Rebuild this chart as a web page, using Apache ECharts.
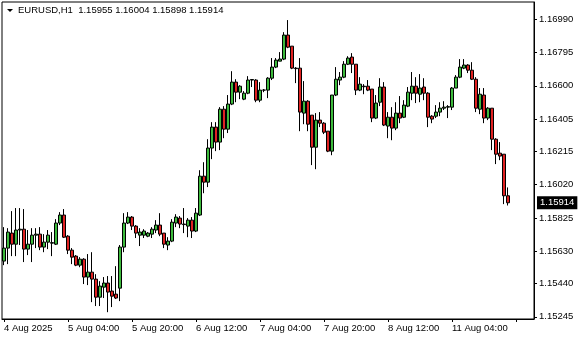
<!DOCTYPE html>
<html>
<head>
<meta charset="utf-8">
<script src="https://cdn.jsdelivr.net/npm/echarts@6/dist/echarts.min.js"></script>
<style>
html,body{margin:0;padding:0;background:#fff;}
#chart{width:580px;height:340px;}
</style>
</head>
<body>
<div id="chart"></div>
<script>
// EURUSD H1, first bar 4 Aug 2025 12:00
const openP = [
1.15572,1.15648,1.15736,1.15671,1.15754,1.15759,1.15642,1.15671,1.15724,1.15730,
1.15654,1.15683,1.15677,1.15671,1.15795,1.15842,1.15718,1.15636,1.15601,1.15548,
1.15583,1.15478,1.15507,1.15466,1.15360,1.15419,1.15443,1.15396,1.15378,1.15413,
1.15654,1.15795,1.15830,1.15777,1.15724,1.15724,1.15718,1.15730,1.15754,1.15783,
1.15736,1.15666,1.15689,1.15795,1.15824,1.15789,1.15777,1.15812,1.15748,1.15842,
1.16070,1.16035,1.16235,1.16358,1.16270,1.16463,1.16346,1.16493,1.16622,1.16563,
1.16522,1.16557,1.16634,1.16634,1.16516,1.16575,1.16575,1.16645,1.16710,1.16745,
1.16757,1.16898,1.16833,1.16704,1.16704,1.16440,1.16510,1.16428,1.16240,1.16399,
1.16381,1.16334,1.16217,1.16546,1.16634,1.16651,1.16727,1.16769,1.16727,1.16575,
1.16598,1.16598,1.16581,1.16411,1.16504,1.16593,1.16364,1.16416,1.16352,1.16440,
1.16416,1.16481,1.16557,1.16598,1.16551,1.16593,1.16557,1.16422,1.16422,1.16446,
1.16469,1.16475,1.16475,1.16587,1.16651,1.16704,1.16722,1.16692,1.16639,1.16463,
1.16546,1.16411,1.16469,1.16287,1.16205,1.16199,1.15955
];
const closeP = [
1.15648,1.15742,1.15671,1.15754,1.15759,1.15642,1.15671,1.15724,1.15730,1.15654,
1.15683,1.15724,1.15680,1.15795,1.15842,1.15712,1.15636,1.15595,1.15548,1.15583,
1.15478,1.15507,1.15466,1.15360,1.15425,1.15443,1.15390,1.15366,1.15355,1.15654,
1.15795,1.15830,1.15777,1.15736,1.15742,1.15748,1.15736,1.15759,1.15783,1.15730,
1.15671,1.15689,1.15800,1.15830,1.15789,1.15786,1.15812,1.15748,1.15853,1.16070,
1.16035,1.16235,1.16358,1.16270,1.16463,1.16346,1.16493,1.16622,1.16563,1.16598,
1.16557,1.16634,1.16637,1.16516,1.16575,1.16575,1.16645,1.16710,1.16751,1.16757,
1.16898,1.16827,1.16704,1.16701,1.16446,1.16510,1.16375,1.16240,1.16399,1.16381,
1.16328,1.16217,1.16546,1.16639,1.16651,1.16727,1.16763,1.16727,1.16575,1.16610,
1.16595,1.16575,1.16411,1.16499,1.16593,1.16370,1.16416,1.16352,1.16440,1.16411,
1.16487,1.16563,1.16598,1.16557,1.16587,1.16557,1.16416,1.16405,1.16446,1.16469,
1.16475,1.16478,1.16587,1.16651,1.16710,1.16722,1.16692,1.16639,1.16469,1.16551,
1.16411,1.16469,1.16287,1.16199,1.16188,1.15955,1.15914
];
const highP = [
1.15771,1.15765,1.15865,1.15883,1.15883,1.15877,1.15754,1.15765,1.15765,1.15771,
1.15730,1.15754,1.15742,1.15818,1.15859,1.15877,1.15724,1.15648,1.15607,1.15595,
1.15589,1.15613,1.15624,1.15495,1.15454,1.15478,1.15484,1.15484,1.15542,1.15666,
1.15853,1.15859,1.15836,1.15783,1.15765,1.15759,1.15742,1.15771,1.15812,1.15853,
1.15736,1.15712,1.15818,1.15847,1.15836,1.15883,1.15824,1.15830,1.15883,1.16105,
1.16152,1.16287,1.16387,1.16387,1.16475,1.16481,1.16546,1.16686,1.16639,1.16604,
1.16569,1.16657,1.16639,1.16639,1.16622,1.16581,1.16651,1.16763,1.16763,1.16798,
1.16915,1.16986,1.16833,1.16710,1.16763,1.16628,1.16516,1.16428,1.16440,1.16446,
1.16387,1.16334,1.16546,1.16710,1.16681,1.16745,1.16774,1.16792,1.16727,1.16651,
1.16610,1.16634,1.16581,1.16546,1.16645,1.16622,1.16446,1.16475,1.16504,1.16540,
1.16516,1.16593,1.16681,1.16651,1.16669,1.16645,1.16563,1.16428,1.16487,1.16504,
1.16510,1.16487,1.16593,1.16663,1.16757,1.16757,1.16727,1.16739,1.16651,1.16587,
1.16587,1.16475,1.16469,1.16293,1.16270,1.16199,1.16004
];
const lowP = [
1.15548,1.15554,1.15601,1.15601,1.15666,1.15566,1.15607,1.15566,1.15648,1.15636,
1.15624,1.15642,1.15601,1.15666,1.15783,1.15707,1.15613,1.15554,1.15542,1.15536,
1.15437,1.15431,1.15331,1.15308,1.15308,1.15355,1.15272,1.15302,1.15349,1.15337,
1.15624,1.15789,1.15754,1.15707,1.15660,1.15707,1.15712,1.15707,1.15736,1.15718,
1.15648,1.15636,1.15683,1.15771,1.15765,1.15736,1.15712,1.15707,1.15742,1.15836,
1.15970,1.16006,1.16170,1.16217,1.16223,1.16293,1.16323,1.16487,1.16504,1.16522,
1.16516,1.16551,1.16593,1.16504,1.16504,1.16563,1.16528,1.16634,1.16704,1.16745,
1.16751,1.16821,1.16698,1.16616,1.16334,1.16375,1.16334,1.16135,1.16111,1.16358,
1.16317,1.16211,1.16193,1.16540,1.16604,1.16645,1.16722,1.16675,1.16546,1.16569,
1.16551,1.16569,1.16387,1.16405,1.16481,1.16364,1.16293,1.16281,1.16340,1.16381,
1.16411,1.16475,1.16516,1.16499,1.16504,1.16516,1.16358,1.16381,1.16411,1.16422,
1.16458,1.16411,1.16458,1.16587,1.16645,1.16698,1.16675,1.16634,1.16446,1.16434,
1.16381,1.16399,1.16223,1.16141,1.16164,1.15906,1.15898
];
const xTickLabels = ['4 Aug 2025','5 Aug 04:00','5 Aug 20:00','6 Aug 12:00','7 Aug 04:00','7 Aug 20:00','8 Aug 12:00','11 Aug 04:00'];
const xTickStep = 16;
const yTicks = [1.15245,1.15440,1.15630,1.15825,1.16020,1.16215,1.16405,1.16600,1.16795,1.16990];
const yMin = 1.15232, yMax = 1.17092;
const symbolName = 'EURUSD,H1';
const nSlots = 133; // bar slots incl. empty right shift

const slots = [];
for (let i = 0; i < nSlots; i++) slots.push(String(i));
const candles = openP.map((o, i) => [o, closeP[i], lowP[i], highP[i]]);
const last = openP.length - 1;
const titleText = symbolName + '  ' + [openP[last], highP[last], lowP[last], closeP[last]].map(v => v.toFixed(5)).join(' ');

const FONT = 'Liberation Sans';
const chart = echarts.init(document.getElementById('chart'), null, {renderer: 'canvas'});
chart.setOption({
  animation: false,
  backgroundColor: '#ffffff',
  title: {
    text: titleText, left: 18, top: 5, padding: 0,
    textStyle: {fontFamily: FONT, fontSize: 9.5, fontWeight: 'normal', color: '#000'}
  },
  graphic: [{
    type: 'polygon', shape: {points: [[7, 9], [13, 9], [10, 12]]},
    style: {fill: '#000'}
  }],
  grid: {left: 2, right: 46, top: 2, bottom: 21, show: true, borderColor: '#000', borderWidth: 1, backgroundColor: '#fff'},
  xAxis: {
    type: 'category', data: slots, boundaryGap: true,
    axisLine: {show: true, lineStyle: {color: '#000', width: 1}},
    axisTick: {show: true, interval: xTickStep - 1, alignWithLabel: true, length: 3, lineStyle: {color: '#000'}},
    axisLabel: {
      show: true, interval: xTickStep - 1, align: 'left', margin: 4,
      fontFamily: FONT, fontSize: 9.5, color: '#000',
      formatter: (v, idx) => (idx % xTickStep === 0 && xTickLabels[idx / xTickStep]) ? xTickLabels[idx / xTickStep] : ''
    },
    splitLine: {show: false}
  },
  yAxis: {
    type: 'value', position: 'right', scale: true, min: yMin, max: yMax,
    axisLine: {show: true, lineStyle: {color: '#000', width: 1}},
    axisTick: {show: true, length: 3, lineStyle: {color: '#000'}, customValues: yTicks},
    axisLabel: {
      show: true, margin: 5, fontFamily: FONT, fontSize: 9.5, color: '#000',
      customValues: yTicks, formatter: v => Number(v).toFixed(5)
    },
    splitLine: {show: false}
  },
  series: [{
    type: 'candlestick',
    data: candles,
    barWidth: 3,
    itemStyle: {
      color: '#3dba3d', color0: '#e02222',
      borderColor: '#000', borderColor0: '#000', borderWidth: 1
    },
    markLine: {
      silent: true, symbol: ['none', 'none'], precision: 5,
      lineStyle: {color: 'rgba(0,0,0,0)', width: 1, type: 'solid'},
      emphasis: {disabled: true},
      label: {
        show: true, position: 'end', distance: 3,
        formatter: p => Number(p.value).toFixed(5),
        backgroundColor: '#000', color: '#fff', padding: [2, 3, 1, 3],
        fontFamily: FONT, fontSize: 9.5
      },
      data: [{yAxis: closeP[last]}]
    }
  }]
});
</script>
</body>
</html>
